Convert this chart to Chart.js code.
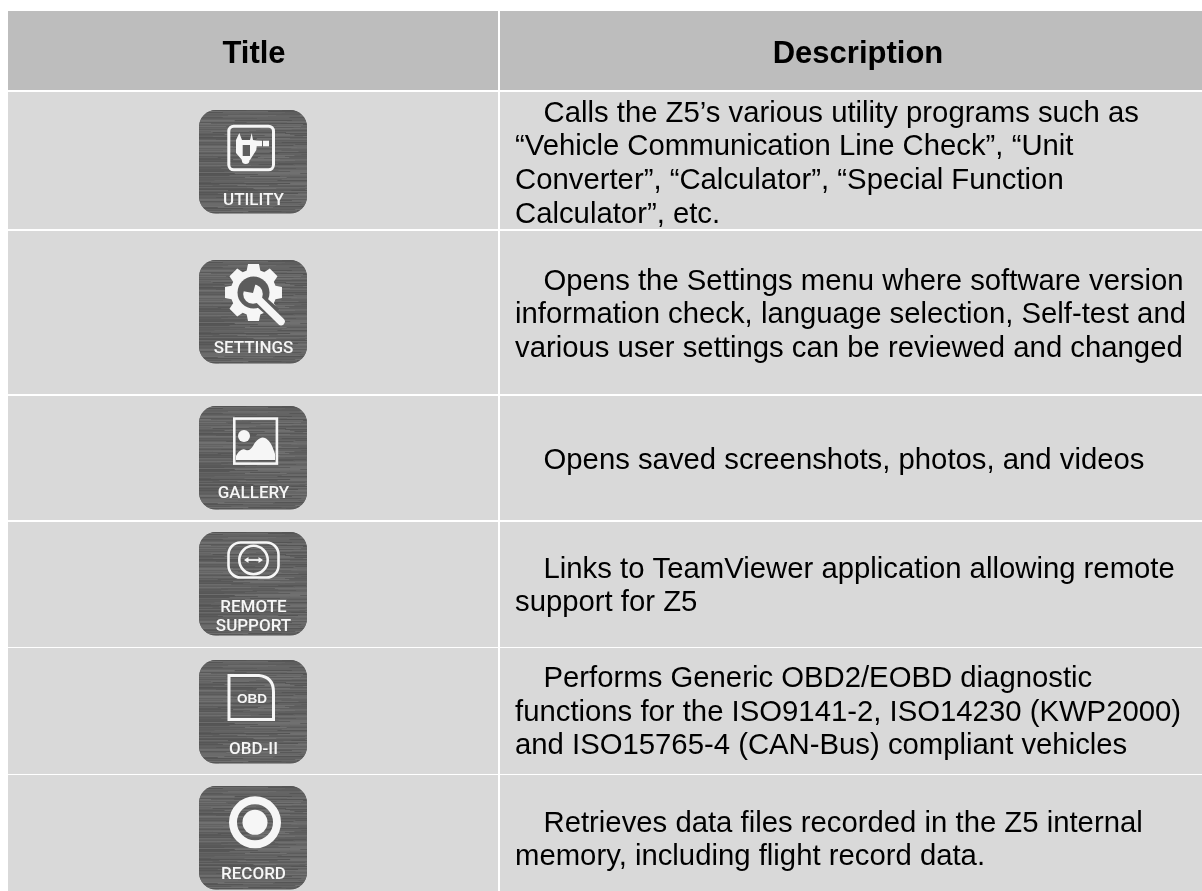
<!DOCTYPE html>
<html>
<head>
<meta charset="utf-8">
<title>Z5 menu table</title>
<script src="https://cdn.jsdelivr.net/npm/chart.js@4/dist/chart.umd.js"></script>
<style>
  html, body { margin: 0; padding: 0; background: #fff; overflow: hidden; }
  #wrap { position: relative; width: 1202px; height: 891px; }
</style>
</head>
<body>
<div id="wrap"><canvas id="tableChart" width="1202" height="891"></canvas></div>
<script>
const columnTitles = ['Title', 'Description'];
const iconLabels = [['UTILITY'], ['SETTINGS'], ['GALLERY'], ['REMOTE', 'SUPPORT'], ['OBD-II'], ['RECORD']];
const descriptions = [
    ['Calls the Z5\u2019s various utility programs such as', '\u201cVehicle Communication Line Check\u201d, \u201cUnit', 'Converter\u201d, \u201cCalculator\u201d, \u201cSpecial Function', 'Calculator\u201d, etc.'],
    ['Opens the Settings menu where software version', 'information check, language selection, Self-test and', 'various user settings can be reviewed and changed'],
    ['Opens saved screenshots, photos, and videos'],
    ['Links to TeamViewer application allowing remote', 'support for Z5'],
    ['Performs Generic OBD2/EOBD diagnostic', 'functions for the ISO9141-2, ISO14230 (KWP2000)', 'and ISO15765-4 (CAN-Bus) compliant vehicles'],
    ['Retrieves data files recorded in the Z5 internal', 'memory, including flight record data.']
];

// table grid (axis units are the picture's pixels)
const rowTops = [11, 92, 231, 396, 522, 648, 775];
const rowBottoms = [90, 229, 394, 520, 647, 774, 891];
const columnLefts = [8, 500];
const columnRights = [498, 1202];
const firstBaselines = [121.7, 289.5, 469, 577.7, 687, 831.7];
const iconTops = [110, 260, 406, 532, 660, 786];

const COLORS = { header: '#bdbdbd', row: '#d9d9d9', text: '#000000', iconFace: '#636363', iconDark: '#5c5c5c', glyph: '#f6f6f6' };
const FONT = '"Liberation Sans", Arial, sans-serif';
const LINE_PITCH = 33.6;
const ICON_W = 108, ICON_H = 103.5;

function cellData(col) {
    return rowTops.map((top, i) => ({ x: (columnLefts[col] + columnRights[col]) / 2, y: [top, rowBottoms[i]] }));
}

function cellDataset(col) {
    return {
        data: cellData(col),
        backgroundColor: rowTops.map((_, i) => i === 0 ? COLORS.header : COLORS.row),
        borderWidth: 0,
        grouped: false,
        barPercentage: 100,
        maxBarThickness: columnRights[col] - columnLefts[col]
    };
}

// fine horizontal streaks of the brushed metal icons (fixed hash, same every run)
function streakShade(y, seg) {
    const h = Math.sin(y * 12.9898 + seg * 78.233) * 43758.5453;
    return 84 + Math.floor((h - Math.floor(h)) * 30);
}

function drawIconFace(ctx, x, y) {
    ctx.save();
    ctx.beginPath();
    ctx.roundRect(x, y, ICON_W, ICON_H, 17);
    ctx.clip();
    ctx.fillStyle = COLORS.iconFace;
    ctx.fillRect(x, y, ICON_W, ICON_H);
    ctx.filter = 'blur(0.6px)';
    for (let r = 0; r < ICON_H; r++) {
        let sx = -6, seg = 0;
        while (sx < ICON_W + 6) {
            const len = 18 + (streakShade(r, seg + 50) - 84) * 1.7;
            const v = streakShade(r, seg);
            ctx.fillStyle = `rgb(${v},${v},${v})`;
            ctx.fillRect(x + sx, y + r, len, 1);
            sx += len;
            seg++;
        }
    }
    ctx.restore();
}

const glyphs = {
    utility(ctx) {
        ctx.lineWidth = 3;
        ctx.beginPath();
        ctx.roundRect(29.8, 16.2, 44.7, 43.6, 5);
        ctx.stroke();
        ctx.beginPath();
        ctx.moveTo(40.3, 23);
        ctx.lineTo(43, 30);
        ctx.lineTo(51, 30);
        ctx.lineTo(52.7, 23);
        ctx.lineTo(54, 30);
        ctx.lineTo(57.7, 30.5);
        ctx.lineTo(63, 30.7);
        ctx.lineTo(63, 36.3);
        ctx.lineTo(57.7, 36.3);
        ctx.lineTo(57.3, 40);
        ctx.lineTo(51, 50);
        ctx.lineTo(43, 50);
        ctx.lineTo(37, 43);
        ctx.lineTo(37, 30);
        ctx.closePath();
        ctx.fill();
        ctx.fillRect(64, 30.7, 6, 5.6);
        ctx.fillStyle = COLORS.iconDark;
        ctx.fillRect(43.7, 35, 7.3, 11);
        ctx.fillStyle = COLORS.glyph;
        ctx.beginPath();
        ctx.arc(46.7, 50.3, 3.8, 0, Math.PI * 2);
        ctx.fill();
    },
    settings(ctx) {
        const cx = 54.5, cy = 32.5;
        ctx.beginPath();
        for (let i = 0; i < 8; i++) {
            const a = i * Math.PI / 4 - Math.PI / 2;
            [[-0.3, 23], [-0.19, 29], [0.19, 29], [0.3, 23]].forEach(p => {
                ctx.lineTo(cx + p[1] * Math.cos(a + p[0]), cy + p[1] * Math.sin(a + p[0]));
            });
        }
        ctx.closePath();
        ctx.fill();
        // dark hole and the gap round the wrench shaft
        ctx.fillStyle = COLORS.iconDark;
        ctx.beginPath();
        ctx.arc(cx, cy, 16, 0, Math.PI * 2);
        ctx.fill();
        ctx.strokeStyle = COLORS.iconDark;
        ctx.lineWidth = 13;
        ctx.beginPath();
        ctx.moveTo(60, 40);
        ctx.lineTo(76, 54);
        ctx.stroke();
        // wrench
        ctx.fillStyle = COLORS.glyph;
        ctx.strokeStyle = COLORS.glyph;
        ctx.lineWidth = 7.5;
        ctx.lineCap = 'round';
        ctx.beginPath();
        ctx.moveTo(56, 36);
        ctx.lineTo(82, 61.5);
        ctx.stroke();
        ctx.beginPath();
        ctx.arc(54, 34, 9.8, 0, Math.PI * 2);
        ctx.fill();
        ctx.fillStyle = COLORS.iconDark;
        ctx.beginPath();
        ctx.moveTo(54, 33);
        ctx.lineTo(43, 31);
        ctx.lineTo(44, 21);
        ctx.lineTo(57, 22);
        ctx.closePath();
        ctx.fill();
    },
    gallery(ctx) {
        ctx.lineWidth = 2.6;
        ctx.strokeRect(35.3, 12.6, 42.6, 45);
        ctx.beginPath();
        ctx.arc(45, 30, 6, 0, Math.PI * 2);
        ctx.fill();
        ctx.beginPath();
        ctx.moveTo(37, 54);
        ctx.lineTo(37, 50);
        ctx.bezierCurveTo(40, 44, 44, 42, 47, 44);
        ctx.bezierCurveTo(50, 45, 52, 43, 54, 40);
        ctx.bezierCurveTo(57, 34, 62, 30, 66, 32);
        ctx.bezierCurveTo(70, 34, 73, 38, 76, 48);
        ctx.lineTo(76, 54);
        ctx.closePath();
        ctx.fill();
    },
    remote(ctx) {
        ctx.lineWidth = 2.6;
        ctx.beginPath();
        ctx.roundRect(29.5, 10.5, 50, 35, 12);
        ctx.stroke();
        ctx.beginPath();
        ctx.arc(54.5, 28, 14.2, 0, Math.PI * 2);
        ctx.stroke();
        ctx.lineWidth = 1.8;
        ctx.beginPath();
        ctx.moveTo(48, 28);
        ctx.lineTo(61, 28);
        ctx.stroke();
        ctx.beginPath();
        ctx.moveTo(45, 28);
        ctx.lineTo(49.5, 25);
        ctx.lineTo(49.5, 31);
        ctx.closePath();
        ctx.moveTo(64, 28);
        ctx.lineTo(59.5, 25);
        ctx.lineTo(59.5, 31);
        ctx.closePath();
        ctx.fill();
    },
    obd(ctx) {
        ctx.lineWidth = 3;
        ctx.beginPath();
        ctx.moveTo(30, 15.5);
        ctx.lineTo(60, 15.5);
        ctx.quadraticCurveTo(74.5, 17, 74.5, 32);
        ctx.lineTo(74.5, 59.5);
        ctx.lineTo(30, 59.5);
        ctx.closePath();
        ctx.stroke();
        ctx.font = 'bold 13.5px ' + FONT;
        ctx.textAlign = 'center';
        ctx.textBaseline = 'alphabetic';
        ctx.fillText('OBD', 53, 42.5);
    },
    record(ctx) {
        ctx.lineWidth = 8;
        ctx.beginPath();
        ctx.arc(56, 36.3, 22, 0, Math.PI * 2);
        ctx.stroke();
        ctx.beginPath();
        ctx.arc(56, 36.3, 12.5, 0, Math.PI * 2);
        ctx.fill();
    }
};
const glyphOrder = ['utility', 'settings', 'gallery', 'remote', 'obd', 'record'];
const iconLabelBaselines = [[95], [93], [92], [80, 99], [94], [93]];

const tableTextPlugin = {
    id: 'tableText',
    afterDatasetsDraw(chart) {
        const ctx = chart.ctx;
        const xs = chart.scales.x, ys = chart.scales.y;
        ctx.save();

        // header row
        ctx.fillStyle = COLORS.text;
        ctx.font = 'bold 31px ' + FONT;
        ctx.textAlign = 'center';
        ctx.textBaseline = 'alphabetic';
        ctx.fillText(columnTitles[0], xs.getPixelForValue(254), ys.getPixelForValue(62.7));
        ctx.fillText(columnTitles[1], xs.getPixelForValue(858), ys.getPixelForValue(62.7));

        // description text, first line of each cell is indented
        ctx.font = '29.3px ' + FONT;
        ctx.textAlign = 'left';
        descriptions.forEach((lines, r) => {
            lines.forEach((line, l) => {
                const x = l === 0 ? 543.5 : 515;
                ctx.fillText(line, xs.getPixelForValue(x), ys.getPixelForValue(firstBaselines[r] + l * LINE_PITCH));
            });
        });

        // icons
        iconTops.forEach((top, r) => {
            const px = xs.getPixelForValue(199), py = ys.getPixelForValue(top);
            drawIconFace(ctx, px, py);
            ctx.save();
            ctx.translate(px, py);
            ctx.fillStyle = COLORS.glyph;
            ctx.strokeStyle = COLORS.glyph;
            glyphs[glyphOrder[r]](ctx);
            ctx.restore();
            ctx.fillStyle = COLORS.glyph;
            ctx.font = '500 17px Roboto, ' + FONT;
            ctx.textAlign = 'center';
            ctx.textBaseline = 'alphabetic';
            iconLabels[r].forEach((t, i) => {
                ctx.fillText(t, px + 54.5, py + iconLabelBaselines[r][i]);
            });
        });
        ctx.restore();
    }
};

new Chart(document.getElementById('tableChart'), {
    type: 'bar',
    data: { datasets: [cellDataset(0), cellDataset(1)] },
    options: {
        responsive: false,
        animation: false,
        layout: { padding: 0 },
        plugins: { legend: { display: false }, tooltip: { enabled: false }, title: { display: false } },
        scales: {
            x: { type: 'linear', min: 0, max: 1202, offset: false, display: false },
            y: { type: 'linear', min: 0, max: 891, reverse: true, display: false }
        }
    },
    plugins: [tableTextPlugin]
});
</script>
</body>
</html>
